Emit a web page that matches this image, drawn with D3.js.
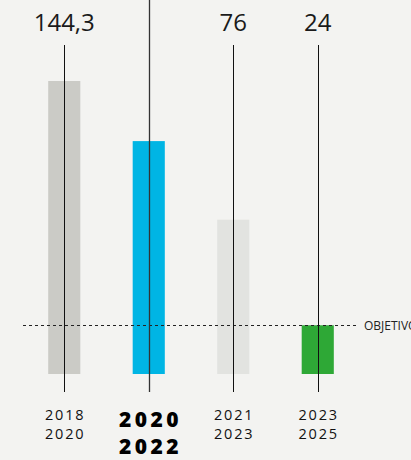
<!DOCTYPE html>
<html>
<head>
<meta charset="utf-8">
<script src="https://cdn.jsdelivr.net/npm/d3@7"></script>
<style>
  html, body { margin: 0; padding: 0; background: #f3f3f1; }
  svg { display: block; font-family: "Open Sans", sans-serif; }
</style>
</head>
<body>
<div id="chart"></div>
<script>
// data
var periods = ["2018-2020", "2020-2022", "2021-2023", "2023-2025"];
var values = [144.3, 114.7, 76, 24];
var valueLabels = ["144,3", "", "76", "24"];
var barColors = ["#cbcbc6", "#00b5e4", "#e2e3e0", "#2ea836"];
var highlight = [false, true, false, false];
var objective = 24;
var objectiveLabel = "OBJETIVO";

var width = 411, height = 460;

var svg = d3.select("#chart")
  .append("svg")
    .attr("width", width)
    .attr("height", height);

// scales
var x = d3.scaleBand()
  .domain(periods)
  .range([22, 360])
  .paddingInner(0.62)
  .paddingOuter(0.31);

var y = d3.scaleLinear()
  .domain([0, 144.3])
  .range([374, 81]);

var data = periods.map(function(p, i) {
  return { period: p, value: values[i], label: valueLabels[i], color: barColors[i], bold: highlight[i] };
});

// bars
svg.selectAll("rect.bar")
  .data(data)
  .enter()
  .append("rect")
    .attr("class", "bar")
    .attr("x", function(d) { return x(d.period); })
    .attr("y", function(d) { return y(d.value); })
    .attr("width", x.bandwidth())
    .attr("height", function(d) { return y(0) - y(d.value); })
    .attr("fill", function(d) { return d.color; });

// objective dashed line
svg.append("line")
  .attr("x1", 23)
  .attr("x2", 358)
  .attr("y1", Math.round(y(objective)) + 0.5)
  .attr("y2", Math.round(y(objective)) + 0.5)
  .attr("stroke", "#222")
  .attr("stroke-width", 1)
  .attr("stroke-dasharray", "3,3");

svg.append("text")
  .attr("x", 364)
  .attr("y", y(objective) + 4.5)
  .attr("font-size", 12)
  .attr("fill", "#222")
  .text(objectiveLabel);

// vertical lines through bars
svg.selectAll("line.stem")
  .data(data)
  .enter()
  .append("line")
    .attr("class", "stem")
    .attr("x1", function(d) { return Math.round(x(d.period) + x.bandwidth() / 2) + 0.5; })
    .attr("x2", function(d) { return Math.round(x(d.period) + x.bandwidth() / 2) + 0.5; })
    .attr("y1", function(d) { return d.bold ? 0 : 45; })
    .attr("y2", 392)
    .attr("stroke", function(d) { return d.bold ? "#333" : "#111"; })
    .attr("stroke-width", function(d) { return d.bold ? 1.3 : 1; });

// value labels
svg.selectAll("text.value")
  .data(data.filter(function(d) { return d.label !== ""; }))
  .enter()
  .append("text")
    .attr("class", "value")
    .attr("x", function(d) { return x(d.period) + x.bandwidth() / 2; })
    .attr("y", 31)
    .attr("text-anchor", "middle")
    .attr("font-size", 24)
    .attr("font-weight", 400)
    .attr("fill", "#1a1a1a")
    .text(function(d) { return d.label; });

// period labels
var cat = svg.selectAll("text.period")
  .data(data)
  .enter()
  .append("text")
    .attr("class", "period")
    .attr("x", function(d) { return x(d.period) + x.bandwidth() / 2; })
    .attr("text-anchor", "middle")
    .attr("fill", function(d) { return d.bold ? "#000" : "#111"; })
    .attr("font-size", function(d) { return d.bold ? 21 : 14.5; })
    .attr("font-weight", function(d) { return d.bold ? 800 : 400; })
    .style("letter-spacing", function(d) { return d.bold ? "3.5px" : "1.8px"; });

cat.each(function(d) {
  var parts = d.period.split("-");
  var t = d3.select(this);
  var y0 = d.bold ? 427 : 420;
  var dy = d.bold ? 27 : 19;
  parts.forEach(function(p, i) {
    t.append("tspan")
      .attr("x", x(d.period) + x.bandwidth() / 2 + (d.bold ? 1.75 : 0.9))
      .attr("y", y0 + i * dy)
      .text(p);
  });
});
</script>
</body>
</html>
